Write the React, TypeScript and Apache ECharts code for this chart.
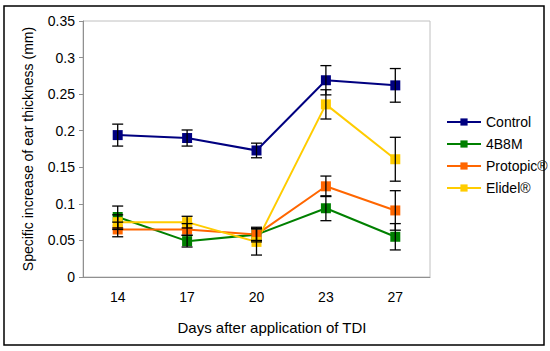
import React, { useEffect, useRef } from "react";
import * as echarts from "echarts";

const days = ["14", "17", "20", "23", "27"];
const seriesNames = ["Control", "4B8M", "Protopic®", "Elidel®"];
const colors = ["#000080", "#008000", "#FF6600", "#FFCC00"];
const control = [0.194, 0.19, 0.173, 0.269, 0.262];
const b8m = [0.082, 0.049, 0.058, 0.094, 0.055];
const protopic = [0.065, 0.065, 0.058, 0.124, 0.091];
const elidel = [0.075, 0.075, 0.048, 0.236, 0.161];
const controlErr = [0.015, 0.011, 0.01, 0.02, 0.023];
const b8mErr = [0.015, 0.008, 0.01, 0.017, 0.018];
const protopicErr = [0.01, 0.008, 0.008, 0.014, 0.027];
const elidelErr = [0.01, 0.008, 0.018, 0.02, 0.03];

const allValues = [control, b8m, protopic, elidel];
const allErrs = [controlErr, b8mErr, protopicErr, elidelErr];

export default function App() {
  const ref = useRef<HTMLDivElement>(null);
  useEffect(() => {
    const chart = echarts.init(ref.current!, null, { renderer: "svg" });
    const font = "'Liberation Sans', Arial, sans-serif";
    const lineSeries = seriesNames.map((name, i) => ({
      name,
      type: "line",
      data: allValues[i],
      symbol: "rect",
      symbolSize: 10,
      lineStyle: { color: colors[i], width: 2 },
      itemStyle: { color: colors[i] },
      z: 2,
    }));
    const errSeries = seriesNames.map((name, i) => ({
      type: "custom",
      name: name + "-err",
      data: allValues[i].map((v, j) => [j, v - allErrs[i][j], v + allErrs[i][j]]),
      z: 3,
      silent: true,
      renderItem: (params: any, api: any) => {
        const x = api.value(0);
        const lo = api.coord([x, api.value(1)]);
        const hi = api.coord([x, api.value(2)]);
        const w = 5.5;
        const st = { stroke: "#000", lineWidth: 1.3 };
        return {
          type: "group",
          children: [
            { type: "line", shape: { x1: hi[0], y1: hi[1], x2: lo[0], y2: lo[1] }, style: st },
            { type: "line", shape: { x1: hi[0] - w, y1: hi[1], x2: hi[0] + w, y2: hi[1] }, style: st },
            { type: "line", shape: { x1: lo[0] - w, y1: lo[1], x2: lo[0] + w, y2: lo[1] }, style: st },
          ],
        };
      },
    }));
    chart.setOption({
      animation: false,
      backgroundColor: "#fff",
      textStyle: { fontFamily: font },
      grid: {
        left: 83,
        right: 120,
        top: 21,
        bottom: 74,
        show: true,
        borderColor: "#c0c0c0",
        borderWidth: 1,
      },
      legend: {
        data: seriesNames,
        orient: "vertical",
        left: 441,
        top: 110,
        itemWidth: 34,
        itemHeight: 9,
        itemGap: 8,
        textStyle: { fontSize: 14, color: "#000", fontFamily: font },
      },
      xAxis: {
        type: "category",
        data: days,
        boundaryGap: true,
        axisLine: { lineStyle: { color: "#909090" } },
        axisTick: { lineStyle: { color: "#909090" }, length: 5 },
        axisLabel: { color: "#000", fontSize: 14, margin: 13, fontFamily: font },
      },
      yAxis: {
        type: "value",
        min: 0,
        max: 0.35,
        interval: 0.05,
        axisLine: { show: true, lineStyle: { color: "#909090" } },
        axisTick: { show: true, lineStyle: { color: "#909090" }, length: 4 },
        splitLine: { show: false },
        axisLabel: { color: "#000", fontSize: 14, margin: 8, fontFamily: font },
      },
      graphic: [
        {
          type: "rect",
          shape: { x: 4, y: 6, width: 540, height: 339 },
          style: { fill: "none", stroke: "#000", lineWidth: 1.5 },
          z: -1,
        },
        {
          type: "text",
          x: 272,
          y: 327,
          style: {
            text: "Days after application of TDI",
            fontSize: 15,
            fontFamily: font,
            fill: "#000",
            align: "center",
            verticalAlign: "middle",
          },
        },
        {
          type: "text",
          x: 28,
          y: 149,
          rotation: Math.PI / 2,
          style: {
            text: "Specific increase of ear thickness (mm)",
            fontSize: 14,
            fontFamily: font,
            fill: "#000",
            align: "center",
            verticalAlign: "middle",
          },
        },
      ],
      series: [...lineSeries, ...errSeries],
    });
    return () => chart.dispose();
  }, []);
  return (
    <div
      ref={ref}
      style={{ position: "fixed", left: 0, top: 0, width: 550, height: 351 }}
    />
  );
}
